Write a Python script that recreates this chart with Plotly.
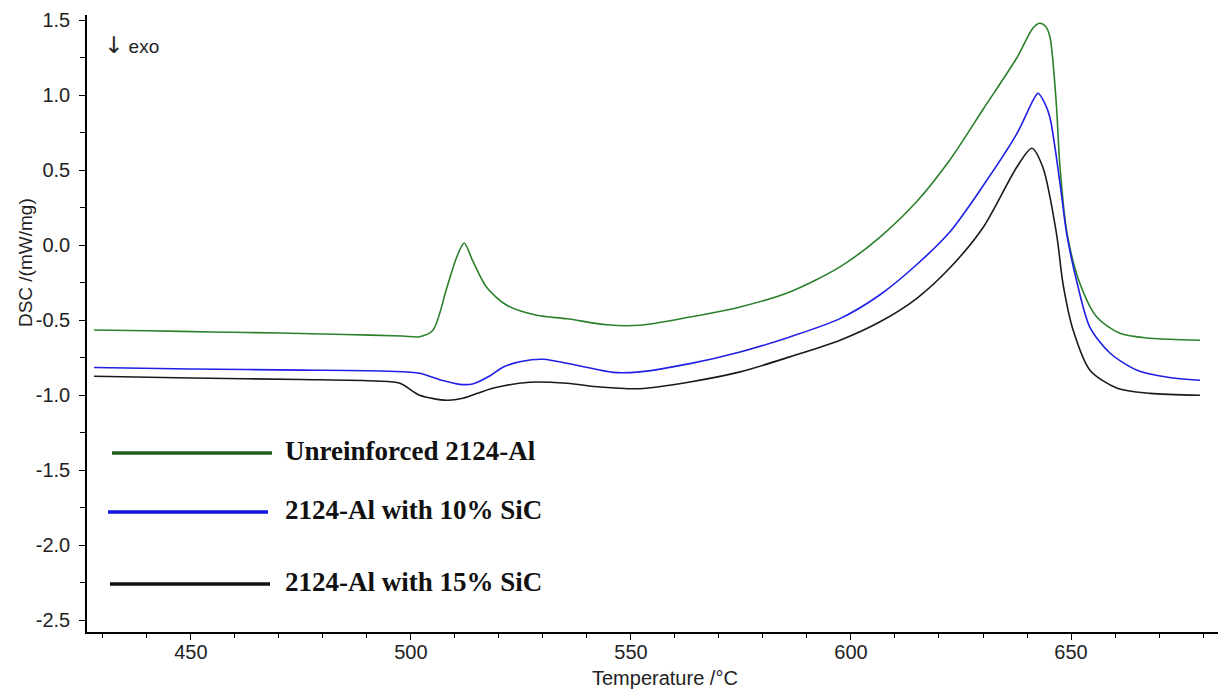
import plotly.graph_objects as go

# ---- data ----
T_green = [428, 440, 455, 470, 485, 498, 502, 505, 508.2, 510.4, 512.1, 514, 517.2, 521.8,
           528.6, 535.5, 544.5, 552, 563.4, 574.8, 586.1, 597.5, 606.6, 614.9, 622.5, 630.1,
           637.7, 641.4, 642.9, 644.2, 645.2, 646.6, 647.5, 649.1, 652, 655.9, 661.1, 668, 679.3]
v_green = [-0.565, -0.57, -0.578, -0.585, -0.595, -0.605, -0.61, -0.567, -0.28, -0.08, 0.015, -0.1,
           -0.28, -0.4, -0.467, -0.49, -0.53, -0.533, -0.478, -0.411, -0.311, -0.144, 0.055, 0.29,
           0.57, 0.91, 1.25, 1.45, 1.48, 1.46, 1.39, 0.967, 0.52, 0.08, -0.253, -0.48, -0.587,
           -0.62, -0.633]

T_blue = [428, 450, 475, 495, 502, 507, 511.1, 514, 518, 520.9, 525, 530, 537.7, 545.9, 552,
          563.4, 574.8, 586.1, 597.5, 606.6, 614.9, 622.5, 630.1, 637.7, 641.4, 642.5, 644,
          645.2, 647.5, 649, 651.4, 654.3, 658.9, 665, 672, 679.3]
v_blue = [-0.815, -0.825, -0.832, -0.84, -0.853, -0.9, -0.927, -0.925, -0.87, -0.813, -0.775, -0.76,
          -0.8, -0.847, -0.844, -0.789, -0.711, -0.611, -0.489, -0.33, -0.13, 0.09, 0.40, 0.744,
          0.967, 1.013, 0.95, 0.853, 0.413, 0.08, -0.253, -0.547, -0.72, -0.833, -0.88, -0.9]

T_black = [428, 450, 475, 492, 497.5, 502, 508.2, 511.8, 518.6, 527, 535.5, 543, 552, 563.4,
           574.8, 586.1, 597.5, 606.6, 614.9, 622.5, 630.1, 637.7, 641.1, 643.6, 646.7, 648.2,
           650.5, 654.3, 660.5, 668, 679.3]
v_black = [-0.873, -0.885, -0.895, -0.905, -0.92, -1.0, -1.033, -1.02, -0.953, -0.913, -0.92, -0.945,
           -0.956, -0.911, -0.844, -0.744, -0.633, -0.51, -0.355, -0.15, 0.122, 0.522, 0.647,
           0.52, 0.078, -0.26, -0.567, -0.833, -0.953, -0.987, -1.0]

names = ["Unreinforced 2124-Al", "2124-Al with 10% SiC", "2124-Al with 15% SiC"]
curve_colors = ["#2b812b", "#1f1fe6", "#1a1a1a"]
legend_colors = ["#1d5e1d", "#1414e0", "#111111"]

x_ticks = [450, 500, 550, 600, 650]
y_ticks = [1.5, 1.0, 0.5, 0.0, -0.5, -1.0, -1.5, -2.0, -2.5]
y_ticktext = ["1.5", "1.0", "0.5", "0.0", "-0.5", "-1.0", "-1.5", "-2.0", "-2.5"]

fig = go.Figure()
for T, v, c, n in zip([T_green, T_blue, T_black], [v_green, v_blue, v_black], curve_colors, names):
    fig.add_trace(go.Scatter(x=T, y=v, mode="lines", name=n,
                             line=dict(color=c, width=1.6, shape="spline", smoothing=0.8),
                             showlegend=False, hoverinfo="skip"))

tickfont = dict(family="Liberation Sans, Arial", size=20, color="#222")
fig.update_layout(
    width=1220, height=691,
    margin=dict(l=87, r=2, t=15, b=59),
    paper_bgcolor="white", plot_bgcolor="white",
    xaxis=dict(range=[426.4, 683.4], tickvals=x_ticks, ticks="outside", ticklen=6, tickwidth=1.3,
               tickcolor="black", showline=True, linecolor="black", linewidth=1.6,
               showgrid=False, zeroline=False, tickfont=tickfont, ticklabelstandoff=-5,
               minor=dict(dtick=10, tick0=0, ticks="outside", ticklen=4, tickwidth=1.2, tickcolor="black",
                          showgrid=False)),
    yaxis=dict(range=[-2.578, 1.535], tickvals=y_ticks, ticktext=y_ticktext, ticks="outside", ticklen=6,
               tickwidth=1.3, tickcolor="black", showline=True, linecolor="black", linewidth=1.6,
               showgrid=False, zeroline=False, tickfont=tickfont, ticklabelstandoff=5,
               minor=dict(dtick=0.25, tick0=0, ticks="outside", ticklen=5, tickwidth=1.2,
                          tickcolor="black", showgrid=False)),
)

# axis titles
fig.add_annotation(text="DSC /(mW/mg)", xref="paper", yref="paper", x=-0.0548, y=0.598,
                   textangle=-90, showarrow=False, xanchor="center", yanchor="middle",
                   font=dict(family="Liberation Sans, Arial", size=19, color="#222"))
fig.add_annotation(text="Temperature /°C", xref="paper", yref="paper", x=0.511, y=-0.0746,
                   showarrow=False, xanchor="center", yanchor="middle",
                   font=dict(family="Liberation Sans, Arial", size=20, color="#222"))
fig.add_annotation(text="<span style='font-family:DejaVu Sans;font-size:23px'>↓</span> exo",
                   xref="paper", yref="paper",
                   x=0.013, y=0.951, showarrow=False, xanchor="left", yanchor="middle",
                   font=dict(family="Liberation Sans, Arial", size=19, color="#222"))

# manual legend
leg_y = [0.290, 0.1945, 0.0778]
leg_x0 = [0.0221, 0.0186, 0.0203]
leg_x1 = [0.1636, 0.1600, 0.1618]
for y, x0, x1, c, n in zip(leg_y, leg_x0, leg_x1, legend_colors, names):
    fig.add_shape(type="line", xref="paper", yref="paper", x0=x0, x1=x1, y0=y, y1=y,
                  line=dict(color=c, width=3.5))
    fig.add_annotation(text="<b>" + n + "</b>", xref="paper", yref="paper", x=0.173, y=y + 0.004,
                       showarrow=False, xanchor="left", yanchor="middle",
                       font=dict(family="Liberation Serif, Times New Roman", size=27, color="#111"))

fig.write_html("out.html")
